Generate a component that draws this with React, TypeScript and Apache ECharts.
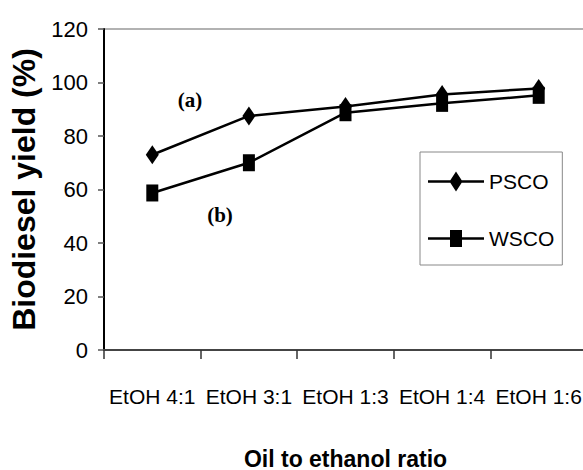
import React, { useEffect, useRef } from "react";
import * as echarts from "echarts";

const categories = ["EtOH 4:1", "EtOH 3:1", "EtOH 1:3", "EtOH 1:4", "EtOH 1:6"];
const pscoValues = [73, 87.5, 91, 95.5, 97.8];
const wscoValues = [58.7, 70, 88.7, 92.2, 95.2];
const yTicks = { min: 0, max: 120, interval: 20 };
const seriesNames = ["PSCO", "WSCO"];
const annotations = ["(a)", "(b)"];

const SANS = "'Liberation Sans', Arial, sans-serif";
const SERIF = "'Liberation Serif', 'Times New Roman', serif";

const diamondIcon = "path://M0 8.8 L56 8.8 L56 11.2 L0 11.2 Z M28 0 L34.5 10 L28 20 L21.5 10 Z";
const squareIcon = "path://M0 8.8 L56 8.8 L56 11.2 L0 11.2 Z M22 1.5 L34 1.5 L34 18.5 L22 18.5 Z";

export default function App() {
  const ref = useRef<HTMLDivElement>(null);
  useEffect(() => {
    if (!ref.current) return;
    const chart = echarts.init(ref.current, null, { renderer: "svg" });
    chart.setOption({
      animation: false,
      backgroundColor: "#ffffff",
      grid: {
        left: 104,
        top: 29,
        right: -4,
        bottom: 120,
        containLabel: false,
        outerBoundsMode: "none",
        show: true,
        borderColor: "#999999",
        borderWidth: 1.5,
      },
      xAxis: {
        type: "category",
        data: categories,
        boundaryGap: true,
        axisLine: { lineStyle: { color: "#444444", width: 2 } },
        axisTick: { show: true, length: 9, lineStyle: { color: "#333333", width: 1.5 } },
        axisLabel: { interval: 0, fontFamily: SANS, fontSize: 21, color: "#000", margin: 36 },
        splitLine: { show: false },
        name: "Oil to ethanol ratio",
        nameLocation: "middle",
        nameGap: 97,
        nameTextStyle: { fontFamily: SANS, fontWeight: "bold", fontSize: 23, color: "#000" },
      },
      yAxis: {
        type: "value",
        min: yTicks.min,
        max: yTicks.max,
        interval: yTicks.interval,
        axisLine: { show: true, lineStyle: { color: "#000", width: 2 } },
        axisTick: { show: true, length: 6, lineStyle: { color: "#555555", width: 1.5 } },
        axisLabel: { fontFamily: SANS, fontSize: 22, color: "#000", margin: 16 },
        splitLine: { show: false },
        name: "Biodiesel yield (%)",
        nameLocation: "middle",
        nameGap: 51,
        nameTextStyle: { fontFamily: SANS, fontWeight: "bold", fontSize: 32, color: "#000" },
      },
      legend: {
        orient: "vertical",
        left: 420,
        top: 152,
        padding: [19, 8, 16, 8],
        itemGap: 36,
        itemWidth: 56,
        itemHeight: 20,
        borderColor: "#888888",
        borderWidth: 1,
        textStyle: { fontFamily: SANS, fontSize: 21, color: "#000" },
        data: [
          { name: seriesNames[0], icon: diamondIcon },
          { name: seriesNames[1], icon: squareIcon },
        ],
      },
      series: [
        {
          name: seriesNames[0],
          type: "line",
          data: pscoValues,
          symbol: "diamond",
          symbolSize: [13, 19],
          lineStyle: { color: "#000", width: 2.5 },
          itemStyle: { color: "#000" },
        },
        {
          name: seriesNames[1],
          type: "line",
          data: wscoValues,
          symbol: "rect",
          symbolSize: [12, 17],
          lineStyle: { color: "#000", width: 2.5 },
          itemStyle: { color: "#000" },
        },
      ],
      graphic: [
        {
          type: "text",
          x: 190,
          y: 100,
          style: {
            text: annotations[0],
            fontFamily: SERIF,
            fontWeight: "bold",
            fontSize: 21,
            fill: "#000",
            align: "center",
            verticalAlign: "middle",
          },
        },
        {
          type: "text",
          x: 220,
          y: 215,
          style: {
            text: annotations[1],
            fontFamily: SERIF,
            fontWeight: "bold",
            fontSize: 21,
            fill: "#000",
            align: "center",
            verticalAlign: "middle",
          },
        },
      ],
    });
    return () => chart.dispose();
  }, []);
  return <div ref={ref} style={{ width: 583, height: 470, position: "absolute", left: 0, top: 0 }} />;
}
